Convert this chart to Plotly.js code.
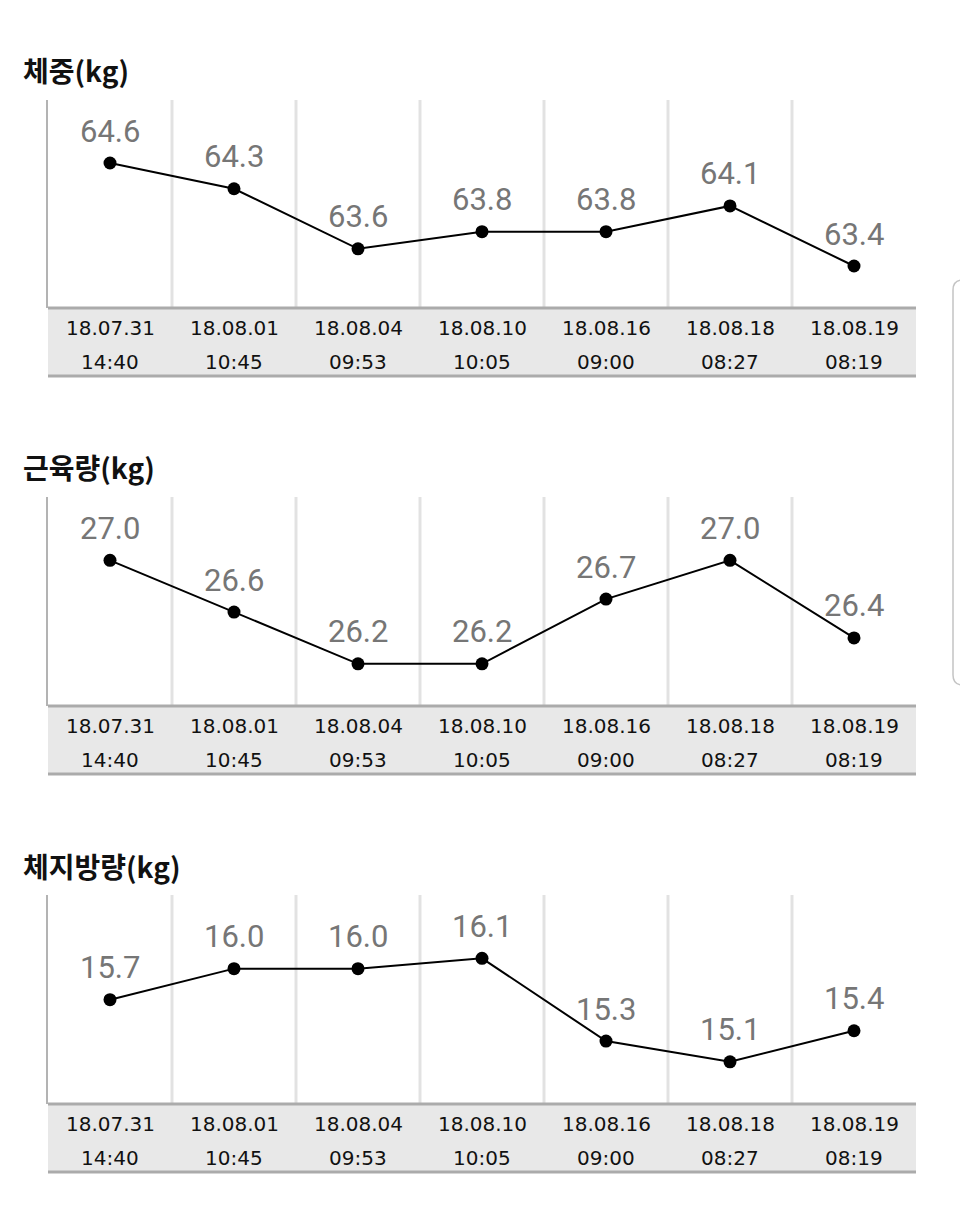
<!DOCTYPE html>
<html>
<head>
<meta charset="utf-8">
<script src="https://cdn.plot.ly/plotly-3.0.1.min.js"></script>
<style>html,body{margin:0;padding:0;background:#fff;}#chart{width:960px;height:1218px;}</style>
</head>
<body>
<div id="chart"></div>
<script>
const dateLabels = ["18.07.31","18.08.01","18.08.04","18.08.10","18.08.16","18.08.18","18.08.19"];
const timeLabels = ["14:40","10:45","09:53","10:05","09:00","08:27","08:19"];
const weight = [64.6, 64.3, 63.6, 63.8, 63.8, 64.1, 63.4];
const muscle = [27.0, 26.6, 26.2, 26.2, 26.7, 27.0, 26.4];
const bodyFat = [15.7, 16.0, 16.0, 16.1, 15.3, 15.1, 15.4];
const panelTitles = ["체중(kg)", "근육량(kg)", "체지방량(kg)"];

const W = 960, H = 1218;
const px = v => v / W;
const py = v => 1 - v / H;

const series = [weight, muscle, bodyFat];
const panels = [
  {top: 100, bottom: 308, titleY: 70},
  {top: 497, bottom: 706, titleY: 467},
  {top: 895, bottom: 1104, titleY: 866}
];
const bandH = 68;
const xs = dateLabels.map((_, i) => i);

const data = [];
const shapes = [];
const annotations = [];
const layout = {
  width: W, height: H,
  margin: {l: 0, r: 0, t: 0, b: 0},
  paper_bgcolor: '#ffffff', plot_bgcolor: '#ffffff',
  showlegend: false
};

panels.forEach((p, k) => {
  const vals = series[k];
  const sx = k === 0 ? '' : String(k + 1);
  const mn = Math.min(...vals), mx = Math.max(...vals);
  const span = mx - mn;
  const lo = mn - 42 / 103 * span, hi = mx + 63 / 103 * span;

  layout['xaxis' + sx] = {
    domain: [px(48), px(916)], range: [-0.5, 6.5], anchor: 'y' + sx,
    showticklabels: false, showgrid: false, zeroline: false, showline: false, ticks: '', fixedrange: true
  };
  layout['yaxis' + sx] = {
    domain: [py(p.bottom), py(p.top)], range: [lo, hi], anchor: 'x' + sx,
    showticklabels: false, showgrid: false, zeroline: false,
    showline: true, linecolor: '#b3b3b3', linewidth: 2, ticks: '', fixedrange: true
  };

  for (let i = 0; i < xs.length - 1; i++) {
    shapes.push({type: 'line', xref: 'x' + sx, yref: 'y' + sx + ' domain',
      x0: i + 0.5, x1: i + 0.5, y0: 0, y1: 1,
      line: {color: '#e2e2e2', width: 3}, layer: 'below'});
  }
  shapes.push({type: 'rect', xref: 'paper', yref: 'paper',
    x0: px(48), x1: px(916), y0: py(p.bottom + bandH), y1: py(p.bottom),
    fillcolor: '#e8e8e8', line: {width: 0}, layer: 'below'});
  shapes.push({type: 'line', xref: 'paper', yref: 'paper',
    x0: px(48), x1: px(916), y0: py(p.bottom), y1: py(p.bottom),
    line: {color: '#ababab', width: 3}});
  shapes.push({type: 'line', xref: 'paper', yref: 'paper',
    x0: px(48), x1: px(916), y0: py(p.bottom + bandH), y1: py(p.bottom + bandH),
    line: {color: '#ababab', width: 3}});

  data.push({
    type: 'scatter', mode: 'lines+markers', x: xs, y: vals,
    xaxis: 'x' + sx, yaxis: 'y' + sx,
    line: {color: '#000000', width: 2},
    marker: {color: '#000000', size: 13},
    hoverinfo: 'skip', cliponaxis: false
  });

  vals.forEach((v, i) => {
    annotations.push({xref: 'x' + sx, yref: 'y' + sx, x: i, y: v, yshift: 32,
      text: v.toFixed(1), showarrow: false,
      font: {family: 'Roboto, sans-serif', size: 31, color: '#767676'}});
    annotations.push({xref: 'x' + sx, yref: 'paper', x: i, y: py(p.bottom + 20),
      yanchor: 'middle', text: dateLabels[i], showarrow: false,
      font: {family: '"DejaVu Sans", sans-serif', size: 20, color: '#111111'}});
    annotations.push({xref: 'x' + sx, yref: 'paper', x: i, y: py(p.bottom + 54),
      yanchor: 'middle', text: timeLabels[i], showarrow: false,
      font: {family: '"DejaVu Sans", sans-serif', size: 20, color: '#111111'}});
  });

  annotations.push({xref: 'paper', yref: 'paper', x: px(21), y: py(p.titleY),
    xanchor: 'left', yanchor: 'middle', text: panelTitles[k], showarrow: false,
    font: {family: '"Noto Sans CJK KR", sans-serif', size: 28, color: '#111111', weight: 700}});
});

const path = 'M ' + px(975) + ',' + py(280) + ' L ' + px(963) + ',' + py(280) +
  ' Q ' + px(953) + ',' + py(280) + ' ' + px(953) + ',' + py(290) +
  ' L ' + px(953) + ',' + py(675) +
  ' Q ' + px(953) + ',' + py(685) + ' ' + px(963) + ',' + py(685) +
  ' L ' + px(975) + ',' + py(685);
shapes.push({type: 'path', xref: 'paper', yref: 'paper', path: path,
  line: {color: '#c4c4c4', width: 1.5}});

layout.shapes = shapes;
layout.annotations = annotations;

Plotly.newPlot('chart', data, layout, {displayModeBar: false, staticPlot: true});
</script>
</body>
</html>
